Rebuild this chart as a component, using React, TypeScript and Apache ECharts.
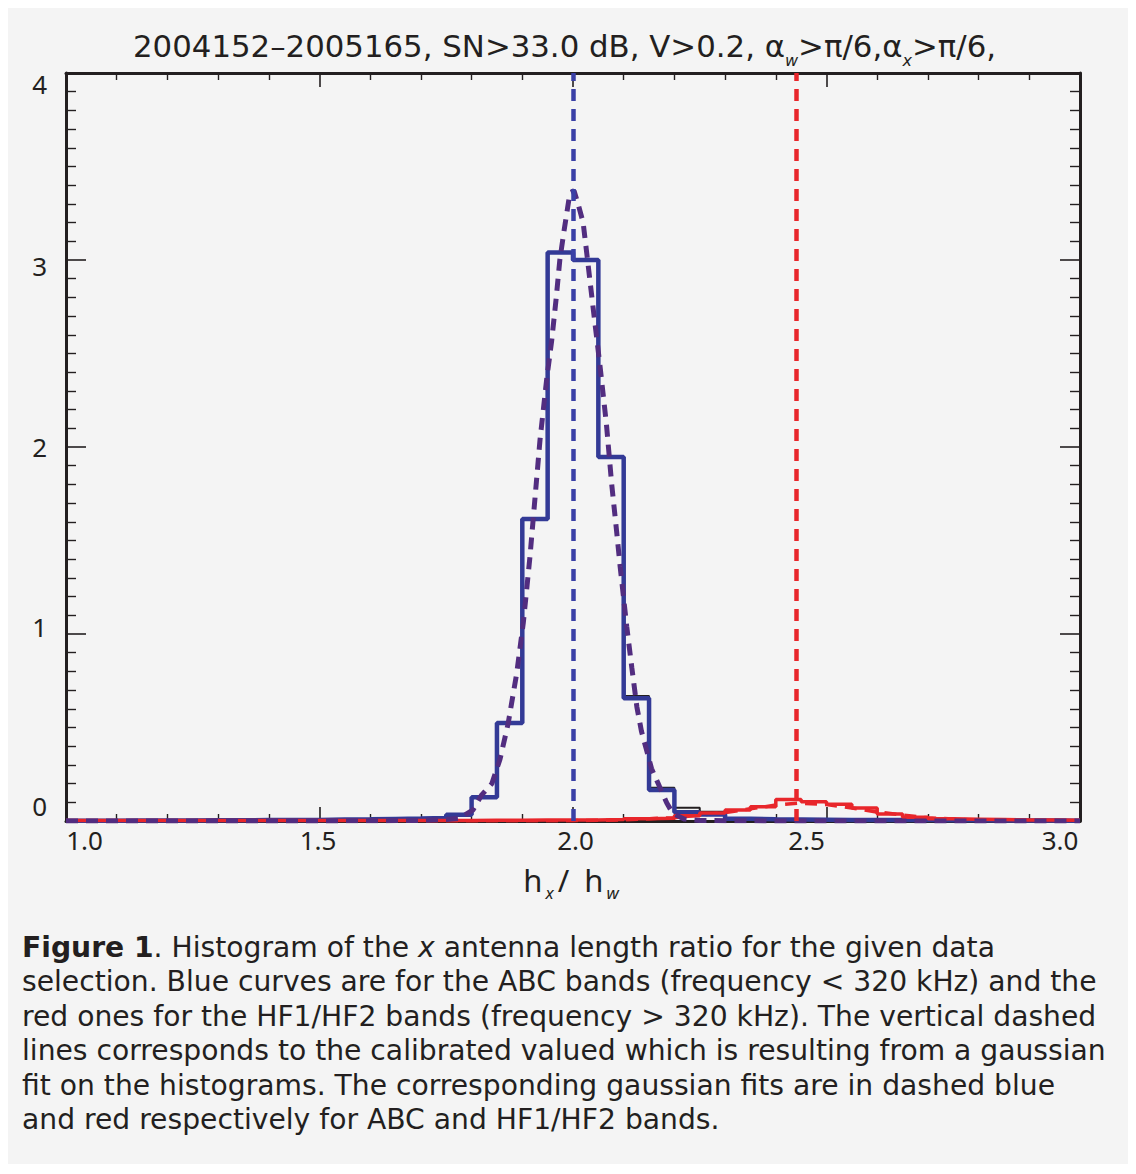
import React, { useEffect, useRef } from "react";
import * as echarts from "echarts";

// ---------- data ----------
const BIN_LEFT = [
  1.0, 1.05, 1.1, 1.15, 1.2, 1.25, 1.3, 1.35, 1.4, 1.45,
  1.5, 1.55, 1.6, 1.65, 1.7, 1.75, 1.8, 1.85, 1.9, 1.95,
  2.0, 2.05, 2.1, 2.15, 2.2, 2.25, 2.3, 2.35, 2.4, 2.45,
  2.5, 2.55, 2.6, 2.65, 2.7, 2.75, 2.8, 2.85, 2.9, 2.95,
];
const BIN_RIGHT_END = 3.0;

// ABC bands (blue solid histogram)
const BLUE_HIST = [
  0.002, 0.002, 0.003, 0.003, 0.003, 0.004, 0.004, 0.005, 0.005, 0.006,
  0.008, 0.009, 0.011, 0.013, 0.016, 0.034, 0.127, 0.524, 1.615, 3.04,
  3.0, 1.946, 0.656, 0.166, 0.047, 0.035, 0.012, 0.009, 0.008, 0.007,
  0.006, 0.006, 0.005, 0.005, 0.004, 0.004, 0.003, 0.003, 0.003, 0.002,
];

// all bands (thin black histogram, mostly hidden under the blue one)
const TOTAL_HIST = [
  0.002, 0.002, 0.003, 0.003, 0.003, 0.004, 0.004, 0.005, 0.005, 0.006,
  0.008, 0.009, 0.011, 0.013, 0.016, 0.034, 0.127, 0.524, 1.615, 3.04,
  3.0, 1.946, 0.668, 0.178, 0.071, 0.05, 0.012, 0.009, 0.008, 0.007,
  0.006, 0.006, 0.005, 0.005, 0.004, 0.004, 0.003, 0.003, 0.003, 0.002,
];

// HF1/HF2 bands (red solid histogram)
const RED_HIST = [
  0.003, 0.003, 0.003, 0.003, 0.003, 0.003, 0.003, 0.003, 0.003, 0.003,
  0.003, 0.003, 0.003, 0.003, 0.003, 0.003, 0.004, 0.004, 0.005, 0.005,
  0.006, 0.008, 0.012, 0.015, 0.028, 0.043, 0.059, 0.076, 0.115, 0.103,
  0.09, 0.07, 0.037, 0.02, 0.012, 0.01, 0.008, 0.006, 0.005, 0.004,
];

// gaussian fit of ABC bands (purple dashed)
const BLUE_FIT_X = [
  1.0, 1.5, 1.7, 1.75, 1.777, 1.803, 1.82, 1.84, 1.856, 1.872,
  1.889, 1.902, 1.915, 1.928, 1.935, 1.948, 1.958, 1.967, 1.974, 1.982,
  1.994, 2.002, 2.01, 2.02, 2.03, 2.039, 2.053, 2.066, 2.076, 2.086,
  2.093, 2.106, 2.116, 2.126, 2.135, 2.145, 2.155, 2.168, 2.185, 2.197,
  2.22, 2.25, 2.4, 3.0,
];
const BLUE_FIT_Y = [
  0.0, 0.0, 0.003, 0.008, 0.015, 0.06, 0.14, 0.2, 0.33, 0.52,
  0.79, 1.06, 1.41, 1.82, 2.04, 2.36, 2.57, 2.8, 3.0, 3.15,
  3.36, 3.37, 3.3, 3.2, 2.97, 2.76, 2.44, 2.12, 1.81, 1.55,
  1.36, 1.04, 0.82, 0.61, 0.48, 0.38, 0.28, 0.2, 0.096, 0.04,
  0.01, 0.003, 0.0, 0.0,
];

// gaussian fit of HF1/HF2 bands (red dashed)
const RED_FIT_X = [1.0, 2.0, 2.1, 2.2, 2.3, 2.35, 2.4, 2.444, 2.5, 2.55, 2.6, 2.7, 2.8, 2.9, 3.0];
const RED_FIT_Y = [0.0, 0.002, 0.006, 0.018, 0.045, 0.065, 0.085, 0.095, 0.088, 0.07, 0.048, 0.017, 0.004, 0.001, 0.0];

// calibrated values (vertical dashed lines)
const BLUE_CENTER = 2.004;
const RED_CENTER = 2.444;

const TITLE_TEXT = "2004152–2005165, SN>33.0 dB, V>0.2, α{sub|w}>π/6,α{sub|x}>π/6,";
const X_NAME = "{h|h}{s|x}{h|/}{g| h}{s|w}";
const CAPTION_LINES = [
  "{b|Figure 1}. Histogram of the {i|x} antenna length ratio for the given data",
  "selection. Blue curves are for the ABC bands (frequency < 320 kHz) and the",
  "red ones for the HF1/HF2 bands (frequency > 320 kHz). The vertical dashed",
  "lines corresponds to the calibrated valued which is resulting from a gaussian",
  "fit on the histograms. The corresponding gaussian fits are in dashed blue",
  "and red respectively for ABC and HF1/HF2 bands.",
];

// ---------- styling ----------
const INK = "#231f20";
const BLUE = "#333a96";
const PURPLE = "#522d80";
const BLUE_V = "#3a40a6";
const RED = "#e8262b";
const FONT = "Noto Sans";
const CAPTION_FONT = "DejaVu Sans";
const CAPTION_SIZE = 28.2;

function stepData(values: number[]) {
  const pts: number[][] = BIN_LEFT.map((x, i) => [x, values[i]]);
  pts.push([BIN_RIGHT_END, values[values.length - 1]]);
  return pts;
}
function pairs(xs: number[], ys: number[]) {
  return xs.map((x, i) => [x, ys[i]]);
}

const labelFont = { fontFamily: FONT, fontSize: 26, color: INK };
const xLabelFont = { ...labelFont, lineHeight: 26 };

const xAxisBase = {
  type: "value",
  min: 1,
  max: 3,
  interval: 0.5,
  splitLine: { show: false },
  axisLine: { show: true, onZero: false, lineStyle: { color: INK, width: 3 } },
  axisTick: { show: true, inside: true, length: 14, lineStyle: { color: INK, width: 1.6 } },
  minorTick: { show: true, splitNumber: 5, length: 7, lineStyle: { color: INK, width: 1.4 } },
  minorSplitLine: { show: false },
};
const yAxisBase = {
  type: "value",
  min: 0,
  max: 4,
  interval: 1,
  splitLine: { show: false },
  axisLine: { show: true, onZero: false, lineStyle: { color: INK, width: 3 } },
  axisTick: { show: true, inside: true, length: 20, lineStyle: { color: INK, width: 1.6 } },
  minorTick: { show: true, splitNumber: 10, length: 10, lineStyle: { color: INK, width: 1.4 } },
  minorSplitLine: { show: false },
};

const nameMain = { fontFamily: FONT, fontSize: 31, lineHeight: 31, color: INK };

const option: any = {
  animation: false,
  backgroundColor: "#f4f4f4",
  title: {
    text: TITLE_TEXT,
    left: 121,
    top: 14,
    textStyle: {
      fontFamily: "DejaVu Sans",
      fontSize: 30.8,
      fontWeight: "normal",
      color: INK,
      rich: {
        sub: { fontFamily: "DejaVu Sans", fontSize: 16, fontStyle: "italic", color: INK, padding: [28, 0, 0, 0] },
      },
    },
  },
  grid: { left: 59, right: 51, top: 68, bottom: 351, containLabel: false, outerBoundsMode: "none" },
  xAxis: [
    {
      ...xAxisBase,
      position: "bottom",
      name: X_NAME,
      nameLocation: "middle",
      nameGap: 43,
      nameMoveOverlap: false,
      nameTextStyle: {
        fontFamily: FONT,
        fontSize: 31,
        color: INK,
        rich: {
          h: nameMain,
          g: { ...nameMain, padding: [0, 0, 0, 7] },
          s: { fontFamily: FONT, fontSize: 17, lineHeight: 17, fontStyle: "italic", color: INK, padding: [26, 4, 0, 3] },
        },
      },
      axisLabel: {
        show: true,
        margin: 6,
        showMinLabel: true,
        showMaxLabel: true,
        hideOverlap: false,
        ...xLabelFont,
        formatter: (v: number) => `{x${Math.round(v * 10)}|${v.toFixed(1)}}`,
        rich: {
          x10: { ...xLabelFont, padding: [0, 0, 0, 37] },
          x15: { ...xLabelFont, padding: [0, 3, 0, 0] },
          x20: { ...xLabelFont, padding: [0, 0, 0, 5] },
          x25: { ...xLabelFont, padding: [0, 40, 0, 0] },
          x30: { ...xLabelFont, padding: [0, 40, 0, 0] },
        },
      },
    },
    { ...xAxisBase, position: "top", axisLabel: { show: false } },
  ],
  yAxis: [
    {
      ...yAxisBase,
      position: "left",
      axisLabel: {
        show: true,
        margin: 19,
        showMinLabel: true,
        showMaxLabel: true,
        hideOverlap: false,
        ...labelFont,
        formatter: (v: number) => `{y${v}|${v}}`,
        rich: {
          y0: { ...labelFont, padding: [0, 0, 30, 0] },
          y1: { ...labelFont, padding: [0, 0, 14, 0] },
          y2: { ...labelFont },
          y3: { ...labelFont, padding: [12, 0, 0, 0] },
          y4: { ...labelFont, padding: [22, 0, 0, 0] },
        },
      },
    },
    { ...yAxisBase, position: "right", axisLabel: { show: false } },
  ],
  graphic: [
    {
      type: "text",
      x: 15,
      y: 925,
      style: {
        text: CAPTION_LINES.join("\n"),
        fontFamily: CAPTION_FONT,
        fontSize: CAPTION_SIZE,
        lineHeight: 34.5,
        fill: INK,
        verticalAlign: "top",
        align: "left",
        rich: {
          b: { fontFamily: CAPTION_FONT, fontSize: CAPTION_SIZE, fontWeight: "bold", lineHeight: 34.5, fill: INK },
          i: { fontFamily: CAPTION_FONT, fontSize: CAPTION_SIZE, fontStyle: "italic", lineHeight: 34.5, fill: INK },
        },
      },
    },
  ],
  series: [
    {
      name: "All bands",
      type: "line",
      step: "end",
      showSymbol: false,
      data: stepData(TOTAL_HIST),
      lineStyle: { color: INK, width: 2 },
      itemStyle: { color: INK },
    },
    {
      name: "HF1/HF2 fit",
      type: "line",
      showSymbol: false,
      data: pairs(RED_FIT_X, RED_FIT_Y),
      lineStyle: { color: RED, width: 3.5, type: [12, 8] },
      itemStyle: { color: RED },
    },
    {
      name: "ABC bands",
      type: "line",
      step: "end",
      showSymbol: false,
      data: stepData(BLUE_HIST),
      lineStyle: { color: BLUE, width: 4.5 },
      itemStyle: { color: BLUE },
    },
    {
      name: "HF1/HF2 bands",
      type: "line",
      step: "end",
      showSymbol: false,
      data: stepData(RED_HIST),
      lineStyle: { color: RED, width: 3.5 },
      itemStyle: { color: RED },
    },
    {
      name: "ABC fit",
      type: "line",
      showSymbol: false,
      data: pairs(BLUE_FIT_X, BLUE_FIT_Y),
      lineStyle: { color: PURPLE, width: 5, type: [12, 8] },
      itemStyle: { color: PURPLE },
      markLine: {
        silent: true,
        symbol: ["none", "none"],
        label: { show: false },
        data: [
          { xAxis: BLUE_CENTER, lineStyle: { color: BLUE_V, width: 4.5, type: [12, 8] } },
          { xAxis: RED_CENTER, lineStyle: { color: RED, width: 4.5, type: [12, 8] } },
        ],
      },
    },
  ],
};

export default function App() {
  const ref = useRef<HTMLDivElement>(null);
  useEffect(() => {
    const chart = echarts.init(ref.current!, null, { renderer: "svg" });
    chart.setOption(option);
    return () => chart.dispose();
  }, []);
  return (
    <div
      ref={ref}
      style={{ width: 1124, height: 1167, marginTop: -3, marginLeft: -1, marginBottom: -8 }}
    />
  );
}
